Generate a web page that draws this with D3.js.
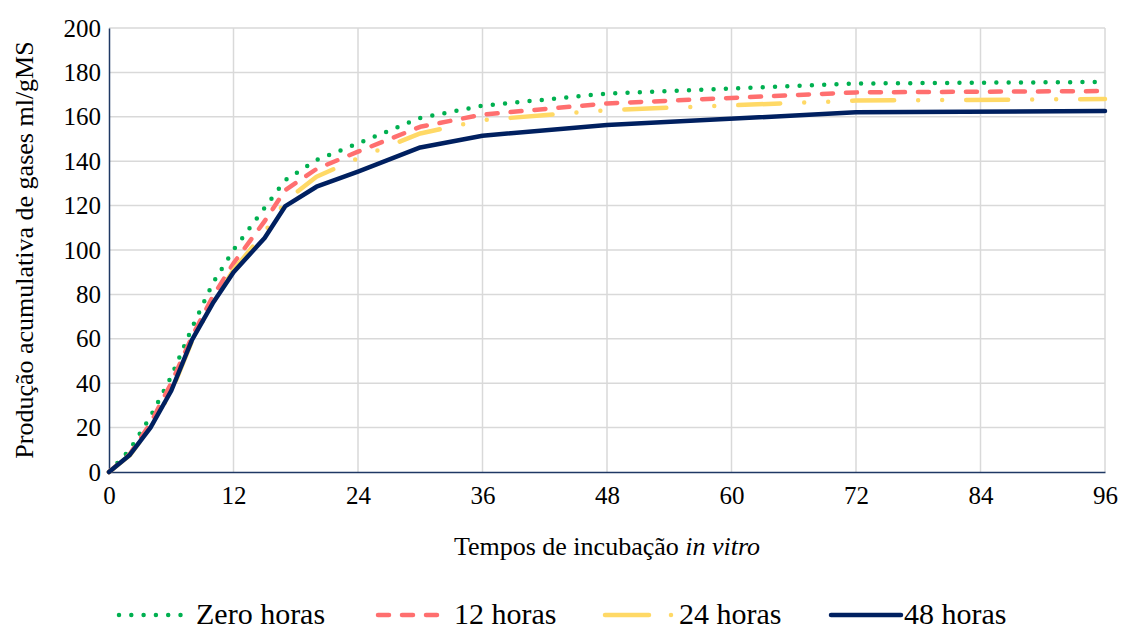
<!DOCTYPE html>
<html>
<head>
<meta charset="utf-8">
<script src="https://cdn.jsdelivr.net/npm/d3@7"></script>
<style>
  body { margin: 0; background: #fff; }
</style>
</head>
<body>
<svg id="chart" width="1121" height="632" font-family="Liberation Serif"></svg>
<script>
// tempos de incubação (h)
var times = [0, 2, 4, 6, 8, 10, 12, 15, 17, 20, 24, 30, 36, 48, 72, 96];
var zeroHoras = [0, 10, 25, 43, 65, 85, 100, 119, 131.5, 140.5, 148, 159.5, 165, 170.5, 175, 175.7];
var horas12 = [0, 8, 22, 40, 61, 79, 94, 113, 127, 136.5, 144.3, 155.5, 161, 166, 171, 171.6];
var horas24 = [0, 7.5, 20, 36, 59, 76, 91, 108, 122, 133, 141.3, 152.5, 158.5, 163, 167.3, 168];
var horas48 = [0, 7.7, 20, 36.6, 59.5, 76, 90, 105.4, 119.8, 128.5, 135.3, 146.2, 151.5, 156.3, 162, 162.6];
var xTicks = [0, 12, 24, 36, 48, 60, 72, 84, 96];
var yTicks = [0, 20, 40, 60, 80, 100, 120, 140, 160, 180, 200];
var seriesNames = ["Zero horas", "12 horas", "24 horas", "48 horas"];

var series = [
  { name: seriesNames[0], values: zeroHoras, color: "#00b050", width: 4.5, dash: "0,12.3" },
  { name: seriesNames[1], values: horas12, color: "#ff6f6f", width: 4.5, dash: "11,13" },
  { name: seriesNames[2], values: horas24, color: "#ffd966", width: 4.5, dash: "42,24,0,24,0,24" },
  { name: seriesNames[3], values: horas48, color: "#002060", width: 4.5, dash: null }
];

var svg = d3.select("#chart"),
  margin = {top: 28, left: 109, right: 16, bottom: 160},
  width = svg.attr("width") - margin.left - margin.right,
  height = svg.attr("height") - margin.top - margin.bottom,
  g = svg.append("g").attr("transform", "translate(" + margin.left + "," + margin.top + ")");

var x = d3.scaleLinear().domain([0, 96]).range([0, width]);
var y = d3.scaleLinear().domain([0, 200]).range([height, 0]);

// grid
g.selectAll("line.hgrid")
  .data(yTicks.slice(1))
  .enter().append("line")
    .attr("x1", 0).attr("x2", width)
    .attr("y1", function (d) { return y(d); })
    .attr("y2", function (d) { return y(d); })
    .attr("stroke", "#d9d9d9").attr("stroke-width", 1.5);

g.selectAll("line.vgrid")
  .data(xTicks.slice(1))
  .enter().append("line")
    .attr("x1", function (d) { return x(d); })
    .attr("x2", function (d) { return x(d); })
    .attr("y1", 0).attr("y2", height)
    .attr("stroke", "#d9d9d9").attr("stroke-width", 1.5);

// axes
var xAxis = g.append("g")
  .attr("transform", "translate(0," + height + ")")
  .call(d3.axisBottom(x).tickValues(xTicks).tickSize(0).tickPadding(14));
var yAxis = g.append("g")
  .call(d3.axisLeft(y).tickValues(yTicks).tickSize(0).tickPadding(8));

[xAxis, yAxis].forEach(function (a) {
  a.attr("font-family", "Liberation Serif").attr("font-size", 25);
  a.select(".domain").attr("stroke", "#1f3864").attr("stroke-width", 1.5);
  a.selectAll("text").attr("fill", "#000");
});

// lines
var line = d3.line()
  .x(function (d, i) { return x(times[i]); })
  .y(function (d) { return y(d); });

g.selectAll("path.serie")
  .data(series)
  .enter().append("path")
    .attr("class", "serie")
    .attr("d", function (d) { return line(d.values); })
    .attr("fill", "none")
    .attr("stroke", function (d) { return d.color; })
    .attr("stroke-width", function (d) { return d.width; })
    .attr("stroke-dasharray", function (d) { return d.dash; })
    .attr("stroke-linecap", "round")
    .attr("stroke-linejoin", "round");

// titulos
var xt = svg.append("text")
  .attr("x", margin.left + width / 2)
  .attr("y", 555)
  .attr("text-anchor", "middle")
  .attr("font-size", 26);
xt.append("tspan").text("Tempos de incubação ");
xt.append("tspan").attr("font-style", "italic").text("in vitro");

svg.append("text")
  .attr("transform", "translate(33," + (margin.top + height / 2) + ") rotate(-90)")
  .attr("text-anchor", "middle")
  .attr("font-size", 26)
  .text("Produção acumulativa de gases ml/gMS");

// legenda
var legendPos = [
  { x1: 119, x2: 187, tx: 196 },
  { x1: 378, x2: 440, tx: 454 },
  { x1: 605, x2: 672, tx: 679 },
  { x1: 831, x2: 901, tx: 904 }
];
var legendDash = ["0,12.3", "11,13", "44,22,0,24", null];

var lg = svg.selectAll("g.legend")
  .data(series)
  .enter().append("g")
    .attr("class", "legend");

lg.append("line")
  .attr("x1", function (d, i) { return legendPos[i].x1; })
  .attr("x2", function (d, i) { return legendPos[i].x2; })
  .attr("y1", 615).attr("y2", 615)
  .attr("stroke", function (d) { return d.color; })
  .attr("stroke-width", function (d) { return d.width; })
  .attr("stroke-dasharray", function (d, i) { return legendDash[i]; })
  .attr("stroke-linecap", "round");

lg.append("text")
  .attr("x", function (d, i) { return legendPos[i].tx; })
  .attr("y", 624)
  .attr("font-size", 30)
  .text(function (d) { return d.name; });
</script>
</body>
</html>
